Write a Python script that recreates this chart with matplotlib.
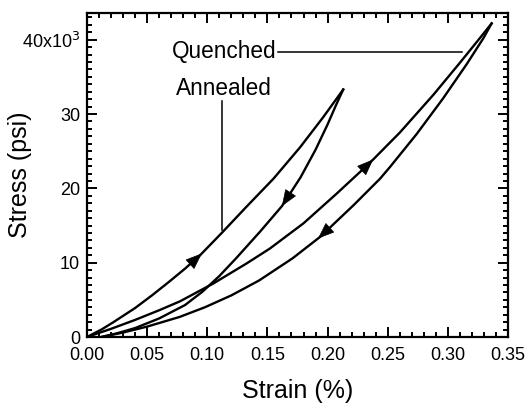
import numpy as np
import matplotlib
matplotlib.use("Agg")
import matplotlib.pyplot as plt
from matplotlib.ticker import MultipleLocator, FixedLocator, FixedFormatter

plt.rcParams['font.family'] = ['Liberation Sans', 'DejaVu Sans']

# ---- data (strain in %, stress in 10^3 psi) ----
annealed_load_strain = [0.0, 0.012, 0.022, 0.040, 0.054, 0.068, 0.0815, 0.094, 0.112, 0.133, 0.155, 0.177, 0.196, 0.213]
annealed_load_stress = [0.0, 1.0, 2.0, 3.9, 5.6, 7.4, 9.2, 11.0, 14.0, 17.6, 21.3, 25.5, 29.5, 33.3]

annealed_unload_strain = [0.213, 0.207, 0.200, 0.190, 0.1776, 0.162, 0.144, 0.124, 0.110, 0.096, 0.0815, 0.060, 0.040, 0.025, 0.012]
annealed_unload_stress = [33.3, 31.2, 28.6, 25.2, 21.5, 17.6, 14.2, 10.6, 8.2, 6.1, 4.3, 2.5, 1.2, 0.5, 0.0]

quenched_load_strain = [0.0, 0.020, 0.040, 0.060, 0.0773, 0.105, 0.1327, 0.152, 0.180, 0.2076, 0.2296, 0.238, 0.260, 0.288, 0.310, 0.327, 0.3364]
quenched_load_stress = [0.0, 1.1, 2.3, 3.6, 4.8, 7.2, 9.9, 11.9, 15.3, 19.3, 22.6, 23.9, 27.5, 32.6, 36.9, 40.3, 42.2]

quenched_unload_strain = [0.3364, 0.3295, 0.3156, 0.296, 0.274, 0.252, 0.2436, 0.222, 0.194, 0.171, 0.143, 0.120, 0.098, 0.077, 0.050, 0.030, 0.012]
quenched_unload_stress = [42.2, 40.2, 36.7, 32.1, 27.3, 22.9, 21.3, 17.8, 13.5, 10.6, 7.6, 5.6, 4.0, 2.7, 1.4, 0.6, 0.0]

# arrow tip strains (along each curve) and direction (+1 loading, -1 unloading)
arrow_tips = [
    (annealed_load_strain, annealed_load_stress, 0.0955, +1),
    (annealed_unload_strain, annealed_unload_stress, 0.162, -1),
    (quenched_load_strain, quenched_load_stress, 0.238, +1),
    (quenched_unload_strain, quenched_unload_stress, 0.192, -1),
]

x_ticks = [0.00, 0.05, 0.10, 0.15, 0.20, 0.25, 0.30, 0.35]
y_ticks = [0, 10, 20, 30, 40]
y_tick_labels = ['0', '10', '20', '30', '40x10$^3$']

fig = plt.figure(figsize=(5.27, 4.09), dpi=100)
ax = fig.add_axes([87/527, 1 - 337/409, 421/527, 324/409])

lw = 1.7
for s, y in [(annealed_load_strain, annealed_load_stress),
             (annealed_unload_strain, annealed_unload_stress),
             (quenched_load_strain, quenched_load_stress),
             (quenched_unload_strain, quenched_unload_stress)]:
    ax.plot(s, y, color='black', lw=lw, solid_joinstyle='round')

def curve_y(s, y, x):
    s = np.asarray(s); y = np.asarray(y)
    order = np.argsort(s)
    return np.interp(x, s[order], y[order])

for s, y, tip, d in arrow_tips:
    tail = tip - d * 0.008
    ax.annotate('', xy=(tip, curve_y(s, y, tip)), xytext=(tail, curve_y(s, y, tail)),
                arrowprops=dict(arrowstyle='-|>,head_length=0.9,head_width=0.35',
                                color='black', lw=0.5, mutation_scale=12,
                                shrinkA=0, shrinkB=0))

# labels with leader lines
ax.text(0.0704, 37.6, 'Quenched', fontsize=16.3, ha='left', va='baseline')
ax.plot([0.1585, 0.3118], [38.3, 38.3], color='black', lw=1.1)
ax.text(0.0737, 32.6, 'Annealed', fontsize=16.3, ha='left', va='baseline')
ax.plot([0.1126, 0.1126], [31.7, 14.4], color='black', lw=1.1)

ax.set_xlim(0, 0.35)
ax.set_ylim(0, 43.6)
ax.xaxis.set_major_locator(FixedLocator(x_ticks))
ax.set_xticklabels([f'{v:.2f}' for v in x_ticks])
ax.xaxis.set_minor_locator(MultipleLocator(0.01))
ax.yaxis.set_major_locator(FixedLocator(y_ticks))
ax.yaxis.set_major_formatter(FixedFormatter(y_tick_labels))
ax.yaxis.set_minor_locator(MultipleLocator(1))

ax.tick_params(which='both', direction='in', top=True, right=True, labelsize=13, width=1.4)
ax.tick_params(which='major', length=7)
ax.tick_params(which='minor', length=3.5)
ax.tick_params(axis='x', which='major', pad=7)
ax.tick_params(axis='y', which='major', pad=5)
for sp in ax.spines.values():
    sp.set_linewidth(1.6)

ax.set_xlabel('Strain (%)', fontsize=18)
ax.set_ylabel('Stress (psi)', fontsize=18)
ax.xaxis.set_label_coords(0.5, -0.167)
ax.yaxis.set_label_coords(-0.158, 0.5)
ax.xaxis.label.set_va('center')
ax.yaxis.label.set_va('center')

fig.savefig('out.png', dpi=100)
